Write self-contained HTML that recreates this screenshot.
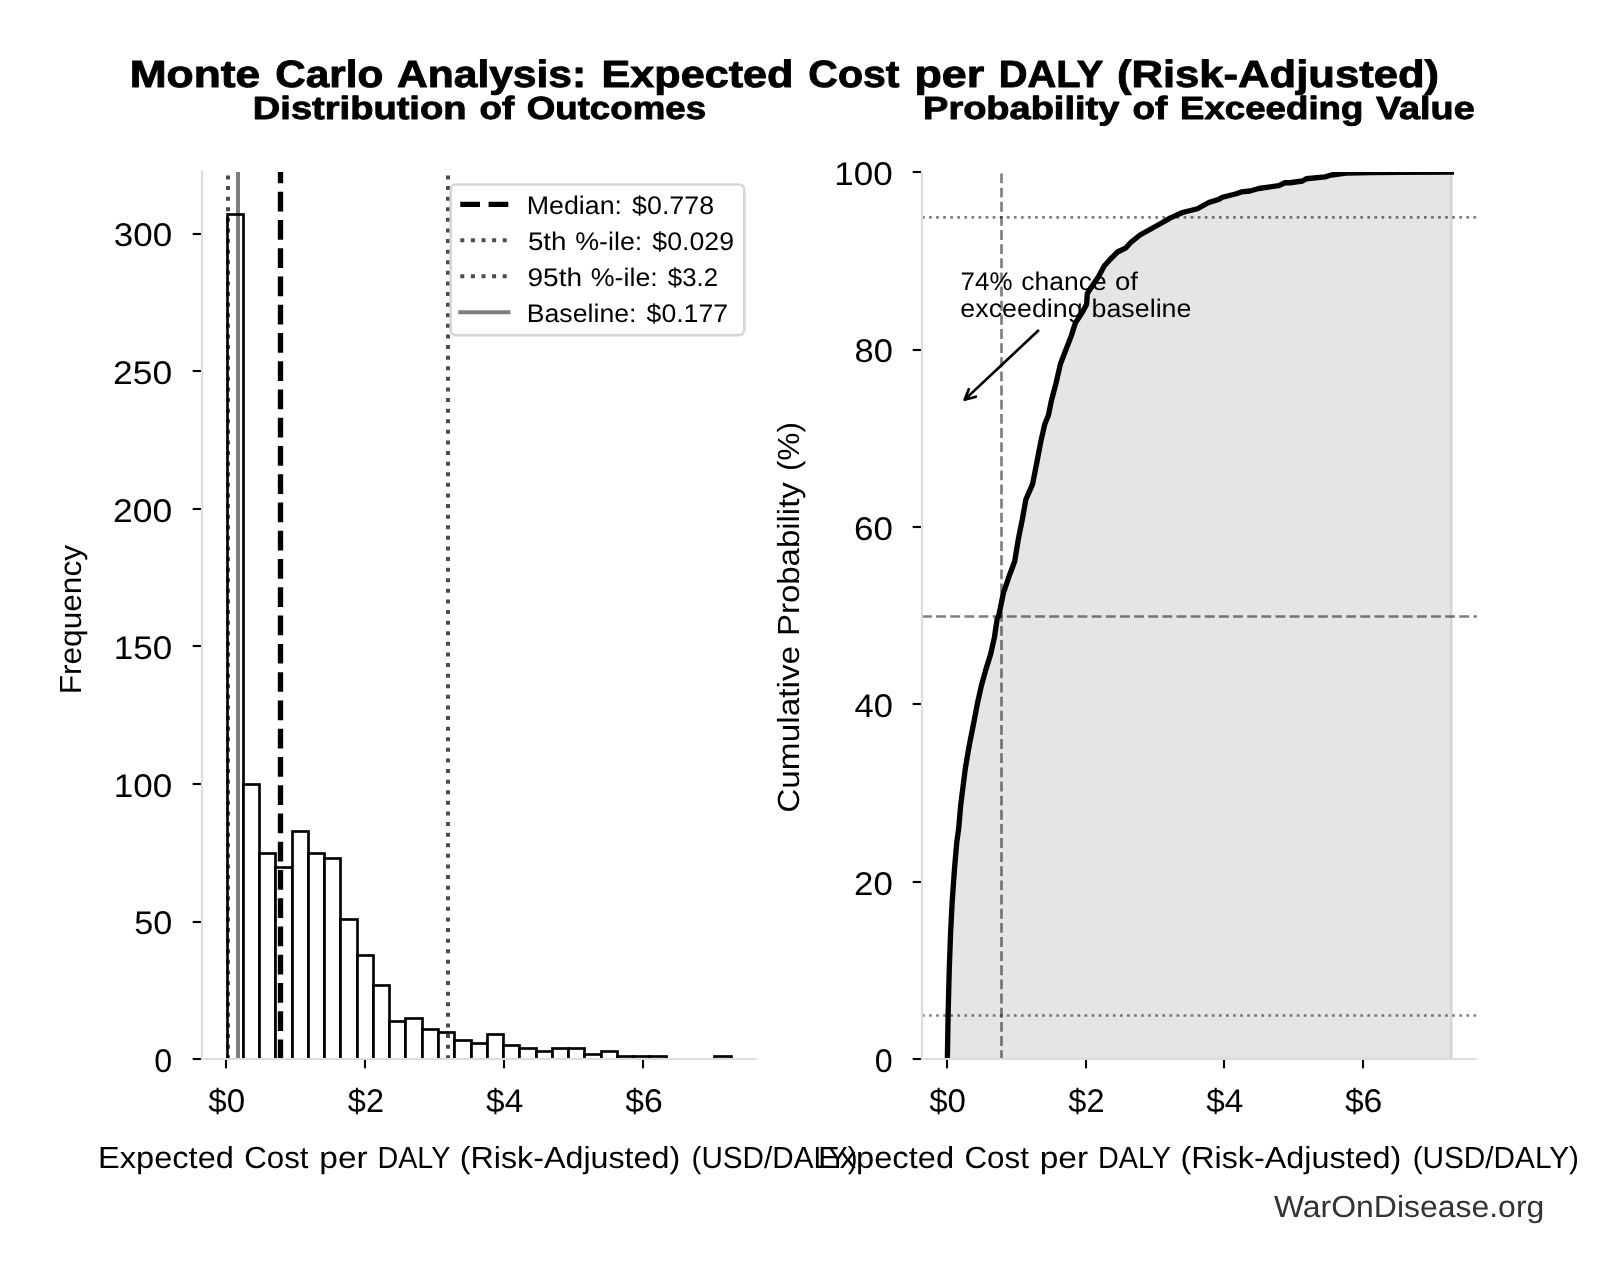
<!DOCTYPE html>
<html lang="en"><head><meta charset="utf-8"><title>Monte Carlo Analysis: Expected Cost per DALY (Risk-Adjusted)</title>
<style>html,body{margin:0;padding:0;background:#fff;}body{width:1601px;height:1280px;overflow:hidden;}svg{display:block;}text{font-family:"Liberation Sans",sans-serif;white-space:pre;}</style></head><body>
<svg width="1601" height="1280" viewBox="0 0 1601 1280">
<rect x="0" y="0" width="1601" height="1280" fill="#fff"/>
<defs>
<clipPath id="cl"><rect x="202.0" y="172.0" width="555.0" height="887.0"/></clipPath>
<clipPath id="cr"><rect x="922.0" y="172.0" width="555.0" height="887.0"/></clipPath>
</defs>
<g id="left-axes">
<g clip-path="url(#cl)">
<g fill="#fff" stroke="#000" stroke-width="2.667" stroke-linejoin="miter">
<rect x="227.50" y="214.50" width="16.00" height="845.00"/>
<rect x="243.50" y="784.50" width="16.00" height="275.00"/>
<rect x="259.50" y="853.50" width="16.00" height="206.00"/>
<rect x="275.50" y="867.50" width="17.00" height="192.00"/>
<rect x="292.50" y="831.50" width="16.00" height="228.00"/>
<rect x="308.50" y="853.50" width="16.00" height="206.00"/>
<rect x="324.50" y="858.50" width="16.00" height="201.00"/>
<rect x="340.50" y="919.50" width="17.00" height="140.00"/>
<rect x="357.50" y="955.50" width="16.00" height="104.00"/>
<rect x="373.50" y="985.50" width="16.00" height="74.00"/>
<rect x="389.50" y="1021.50" width="16.00" height="38.00"/>
<rect x="405.50" y="1018.50" width="17.00" height="41.00"/>
<rect x="422.50" y="1029.50" width="16.00" height="30.00"/>
<rect x="438.50" y="1032.50" width="16.00" height="27.00"/>
<rect x="454.50" y="1040.50" width="17.00" height="19.00"/>
<rect x="471.50" y="1043.50" width="16.00" height="16.00"/>
<rect x="487.50" y="1034.50" width="16.00" height="25.00"/>
<rect x="503.50" y="1045.50" width="16.00" height="14.00"/>
<rect x="519.50" y="1048.50" width="17.00" height="11.00"/>
<rect x="536.50" y="1051.50" width="16.00" height="8.00"/>
<rect x="552.50" y="1048.50" width="16.00" height="11.00"/>
<rect x="568.50" y="1048.50" width="16.00" height="11.00"/>
<rect x="584.50" y="1054.50" width="17.00" height="5.00"/>
<rect x="601.50" y="1051.50" width="16.00" height="8.00"/>
<rect x="617.50" y="1056.50" width="16.00" height="3.00"/>
<rect x="633.50" y="1056.50" width="16.00" height="3.00"/>
<rect x="649.50" y="1056.50" width="17.00" height="3.00"/>
<rect x="666.50" y="1059.50" width="16.00" height="0.00"/>
<rect x="682.50" y="1059.50" width="16.00" height="0.00"/>
<rect x="698.50" y="1059.50" width="16.00" height="0.00"/>
<rect x="714.50" y="1056.50" width="17.00" height="3.00"/>
</g>
<line x1="280.50" y1="1059.25" x2="280.50" y2="172.1" stroke="#000" stroke-width="5.33" stroke-dasharray="19.73 8.53"/>
<line x1="228.00" y1="1059.25" x2="228.00" y2="172.1" stroke="#000" stroke-opacity="0.7" stroke-width="4.00" stroke-dasharray="4.00 6.60"/>
<line x1="448.00" y1="1059.25" x2="448.00" y2="172.1" stroke="#000" stroke-opacity="0.7" stroke-width="4.00" stroke-dasharray="4.00 6.60"/>
<line x1="238.00" y1="1059.25" x2="238.00" y2="172.1" stroke="#000" stroke-opacity="0.5" stroke-width="4.00"/>
</g>
<g stroke="#000" stroke-width="2.13">
<line x1="202.0" y1="1059.00" x2="192.67" y2="1059.00"/>
<line x1="202.0" y1="922.00" x2="192.67" y2="922.00"/>
<line x1="202.0" y1="784.00" x2="192.67" y2="784.00"/>
<line x1="202.0" y1="646.00" x2="192.67" y2="646.00"/>
<line x1="202.0" y1="509.00" x2="192.67" y2="509.00"/>
<line x1="202.0" y1="371.00" x2="192.67" y2="371.00"/>
<line x1="202.0" y1="234.00" x2="192.67" y2="234.00"/>
<line x1="226.00" y1="1059.0" x2="226.00" y2="1068.33"/>
<line x1="365.00" y1="1059.0" x2="365.00" y2="1068.33"/>
<line x1="504.00" y1="1059.0" x2="504.00" y2="1068.33"/>
<line x1="643.00" y1="1059.0" x2="643.00" y2="1068.33"/>
</g>
<g stroke="#dddddd" stroke-width="2.13" stroke-linecap="square" fill="none">
<line x1="202.0" y1="172.0" x2="202.0" y2="1059.0"/>
<line x1="202.0" y1="1059.0" x2="755.93" y2="1059.0"/>
</g>
<g id="legend">
<rect x="450.6" y="184.5" width="293.7" height="150.6" rx="5.3" ry="5.3" fill="#fff" fill-opacity="0.8" stroke="#cccccc" stroke-opacity="0.8" stroke-width="2.67"/>
<line x1="460.3" y1="204.4" x2="508.5" y2="204.4" stroke="#000" stroke-width="5.33" stroke-dasharray="19.73 8.53"/>
<line x1="460.3" y1="240.2" x2="508.5" y2="240.2" stroke="#000" stroke-opacity="0.7" stroke-width="4.00" stroke-dasharray="4.00 6.60"/>
<line x1="460.3" y1="276.2" x2="508.5" y2="276.2" stroke="#000" stroke-opacity="0.7" stroke-width="4.00" stroke-dasharray="4.00 6.60"/>
<line x1="460.3" y1="312.2" x2="508.5" y2="312.2" stroke="#000" stroke-opacity="0.5" stroke-width="4" stroke-linecap="square"/>
</g>
</g>
<g id="right-axes">
<g clip-path="url(#cr)">
<polygon points="947.40,1062.00 947.40,1057.20 948.10,1015.00 949.25,970.00 950.60,932.50 952.25,900.60 954.50,868.75 956.75,842.50 958.70,828.40 960.60,806.25 962.90,787.50 965.30,768.75 968.10,751.90 970.90,736.90 974.30,720.00 977.50,703.10 981.25,686.25 985.90,669.40 990.60,654.40 994.40,637.50 997.20,618.75 998.75,615.60 1003.40,593.10 1009.10,576.25 1014.70,561.25 1018.40,538.75 1022.20,520.00 1025.90,499.40 1032.50,484.40 1036.25,465.60 1040.90,441.25 1044.70,424.40 1048.50,415.00 1051.30,401.00 1055.80,384.10 1060.50,363.75 1065.90,349.70 1071.40,335.60 1075.30,323.10 1082.30,312.20 1086.60,304.40 1087.30,293.40 1092.50,285.60 1098.75,276.25 1104.20,266.10 1110.50,259.00 1117.50,252.00 1126.00,247.80 1131.00,242.30 1140.00,235.00 1151.25,228.75 1162.50,222.50 1170.00,218.10 1182.50,212.50 1197.50,208.75 1208.75,202.50 1218.75,199.40 1222.50,197.25 1236.25,193.75 1241.25,191.90 1250.00,191.00 1258.75,188.50 1278.75,185.60 1285.00,182.75 1290.00,182.75 1302.50,181.00 1306.25,178.75 1325.00,176.90 1331.25,175.00 1346.00,173.20 1371.00,172.60 1400.00,172.30 1454.00,172.10 1451.6,172.1 1451.6,1059 947.4,1059" fill="#000" fill-opacity="0.1" stroke="#000" stroke-opacity="0.1" stroke-width="2.67" stroke-linejoin="miter"/>
<polyline points="947.40,1062.00 947.40,1057.20 948.10,1015.00 949.25,970.00 950.60,932.50 952.25,900.60 954.50,868.75 956.75,842.50 958.70,828.40 960.60,806.25 962.90,787.50 965.30,768.75 968.10,751.90 970.90,736.90 974.30,720.00 977.50,703.10 981.25,686.25 985.90,669.40 990.60,654.40 994.40,637.50 997.20,618.75 998.75,615.60 1003.40,593.10 1009.10,576.25 1014.70,561.25 1018.40,538.75 1022.20,520.00 1025.90,499.40 1032.50,484.40 1036.25,465.60 1040.90,441.25 1044.70,424.40 1048.50,415.00 1051.30,401.00 1055.80,384.10 1060.50,363.75 1065.90,349.70 1071.40,335.60 1075.30,323.10 1082.30,312.20 1086.60,304.40 1087.30,293.40 1092.50,285.60 1098.75,276.25 1104.20,266.10 1110.50,259.00 1117.50,252.00 1126.00,247.80 1131.00,242.30 1140.00,235.00 1151.25,228.75 1162.50,222.50 1170.00,218.10 1182.50,212.50 1197.50,208.75 1208.75,202.50 1218.75,199.40 1222.50,197.25 1236.25,193.75 1241.25,191.90 1250.00,191.00 1258.75,188.50 1278.75,185.60 1285.00,182.75 1290.00,182.75 1302.50,181.00 1306.25,178.75 1325.00,176.90 1331.25,175.00 1346.00,173.20 1371.00,172.60 1400.00,172.30 1454.00,172.10" fill="none" stroke="#000" stroke-width="5.33" stroke-linejoin="round" stroke-linecap="butt"/>
<line x1="922.0" y1="616.5" x2="1477.0" y2="616.5" stroke="#000" stroke-opacity="0.5" stroke-width="2.67" stroke-dasharray="9.87 4.27"/>
<line x1="1001.5" y1="1060.05" x2="1001.5" y2="172.0" stroke="#000" stroke-opacity="0.5" stroke-width="2.67" stroke-dasharray="9.87 4.27"/>
<line x1="922.0" y1="1015.5" x2="1477.0" y2="1015.5" stroke="#000" stroke-opacity="0.5" stroke-width="2.67" stroke-dasharray="2.67 4.40"/>
<line x1="922.0" y1="217.4" x2="1477.0" y2="217.4" stroke="#000" stroke-opacity="0.5" stroke-width="2.67" stroke-dasharray="2.67 4.40"/>
</g>
<g stroke="#000" stroke-width="2.13">
<line x1="922.0" y1="1059.00" x2="912.67" y2="1059.00"/>
<line x1="922.0" y1="882.00" x2="912.67" y2="882.00"/>
<line x1="922.0" y1="704.00" x2="912.67" y2="704.00"/>
<line x1="922.0" y1="527.00" x2="912.67" y2="527.00"/>
<line x1="922.0" y1="350.00" x2="912.67" y2="350.00"/>
<line x1="922.0" y1="172.00" x2="912.67" y2="172.00"/>
<line x1="947.00" y1="1059.0" x2="947.00" y2="1068.33"/>
<line x1="1086.00" y1="1059.0" x2="1086.00" y2="1068.33"/>
<line x1="1224.00" y1="1059.0" x2="1224.00" y2="1068.33"/>
<line x1="1363.00" y1="1059.0" x2="1363.00" y2="1068.33"/>
</g>
<g stroke="#dddddd" stroke-width="2.13" stroke-linecap="square" fill="none">
<line x1="922.0" y1="172.0" x2="922.0" y2="1059.0"/>
<line x1="922.0" y1="1059.0" x2="1475.93" y2="1059.0"/>
</g>
<g stroke="#000" stroke-width="2.67" fill="none" stroke-linecap="round" stroke-linejoin="round">
<line x1="1038.9" y1="330.0" x2="965.0" y2="399.4" stroke-linecap="butt"/>
<polyline points="968.8,389.2 964.6,399.8 975.9,396.7"/>
</g>
</g>
<g id="labels" style="will-change:transform;text-rendering:geometricPrecision">
<text y="86.55" font-size="37.94" font-weight="bold" stroke="#000" stroke-width="0.9" stroke-linejoin="round" fill="#000"><tspan x="129.68" textLength="130.51" lengthAdjust="spacingAndGlyphs">Monte</tspan> <tspan x="275.35" textLength="107.97" lengthAdjust="spacingAndGlyphs">Carlo</tspan> <tspan x="396.99" textLength="189.23" lengthAdjust="spacingAndGlyphs">Analysis:</tspan> <tspan x="601.52" textLength="191.97" lengthAdjust="spacingAndGlyphs">Expected</tspan> <tspan x="808.37" textLength="91.14" lengthAdjust="spacingAndGlyphs">Cost</tspan> <tspan x="914.42" textLength="69.87" lengthAdjust="spacingAndGlyphs">per</tspan> <tspan x="998.65" textLength="104.00" lengthAdjust="spacingAndGlyphs">DALY</tspan> <tspan x="1116.95" textLength="322.18" lengthAdjust="spacingAndGlyphs">(Risk-Adjusted)</tspan></text>
<text y="118.55" font-size="32.12" font-weight="bold" stroke="#000" stroke-width="0.9" stroke-linejoin="round" fill="#000"><tspan x="252.87" textLength="213.60" lengthAdjust="spacingAndGlyphs">Distribution</tspan> <tspan x="479.42" textLength="34.73" lengthAdjust="spacingAndGlyphs">of</tspan> <tspan x="526.77" textLength="179.26" lengthAdjust="spacingAndGlyphs">Outcomes</tspan></text>
<text y="118.55" font-size="32.12" font-weight="bold" stroke="#000" stroke-width="0.9" stroke-linejoin="round" fill="#000"><tspan x="923.08" textLength="196.19" lengthAdjust="spacingAndGlyphs">Probability</tspan> <tspan x="1132.40" textLength="34.81" lengthAdjust="spacingAndGlyphs">of</tspan> <tspan x="1180.07" textLength="183.27" lengthAdjust="spacingAndGlyphs">Exceeding</tspan> <tspan x="1375.94" textLength="98.80" lengthAdjust="spacingAndGlyphs">Value</tspan></text>
<text y="1168.00" font-size="30.52" fill="#000"><tspan x="98.05" textLength="135.85" lengthAdjust="spacingAndGlyphs">Expected</tspan> <tspan x="244.26" textLength="64.30" lengthAdjust="spacingAndGlyphs">Cost</tspan> <tspan x="319.28" textLength="48.38" lengthAdjust="spacingAndGlyphs">per</tspan> <tspan x="377.49" textLength="72.30" lengthAdjust="spacingAndGlyphs">DALY</tspan> <tspan x="459.77" textLength="220.40" lengthAdjust="spacingAndGlyphs">(Risk-Adjusted)</tspan> <tspan x="691.50" textLength="166.04" lengthAdjust="spacingAndGlyphs">(USD/DALY)</tspan></text>
<text y="1168.00" font-size="30.52" fill="#000"><tspan x="817.95" textLength="136.14" lengthAdjust="spacingAndGlyphs">Expected</tspan> <tspan x="964.47" textLength="64.44" lengthAdjust="spacingAndGlyphs">Cost</tspan> <tspan x="1039.65" textLength="48.48" lengthAdjust="spacingAndGlyphs">per</tspan> <tspan x="1097.98" textLength="72.45" lengthAdjust="spacingAndGlyphs">DALY</tspan> <tspan x="1180.43" textLength="220.87" lengthAdjust="spacingAndGlyphs">(Risk-Adjusted)</tspan> <tspan x="1412.65" textLength="166.39" lengthAdjust="spacingAndGlyphs">(USD/DALY)</tspan></text>
<text y="1217.00" font-size="30.52" fill="#333"><tspan x="1273.90" textLength="270.39" lengthAdjust="spacingAndGlyphs">WarOnDisease.org</tspan></text>
<text transform="translate(81.00,0) rotate(-90)" y="0" font-size="30.52" fill="#000"><tspan x="-694.37" textLength="149.37" lengthAdjust="spacingAndGlyphs">Frequency</tspan></text>
<text transform="translate(799.00,0) rotate(-90)" y="0" font-size="30.52" fill="#000"><tspan x="-812.87" textLength="167.04" lengthAdjust="spacingAndGlyphs">Cumulative</tspan> <tspan x="-636.00" textLength="153.79" lengthAdjust="spacingAndGlyphs">Probability</tspan> <tspan x="-470.96" textLength="48.79" lengthAdjust="spacingAndGlyphs">(%)</tspan></text>
<text y="214.00" font-size="25.43" fill="#000"><tspan x="526.71" textLength="95.33" lengthAdjust="spacingAndGlyphs">Median:</tspan> <tspan x="632.12" textLength="81.96" lengthAdjust="spacingAndGlyphs">$0.778</tspan></text>
<text y="250.00" font-size="25.43" fill="#000"><tspan x="527.93" textLength="38.60" lengthAdjust="spacingAndGlyphs">5th</tspan> <tspan x="575.18" textLength="67.09" lengthAdjust="spacingAndGlyphs">%-ile:</tspan> <tspan x="652.32" textLength="81.76" lengthAdjust="spacingAndGlyphs">$0.029</tspan></text>
<text y="286.00" font-size="25.43" fill="#000"><tspan x="527.48" textLength="54.67" lengthAdjust="spacingAndGlyphs">95th</tspan> <tspan x="590.77" textLength="66.99" lengthAdjust="spacingAndGlyphs">%-ile:</tspan> <tspan x="667.80" textLength="50.25" lengthAdjust="spacingAndGlyphs">$3.2</tspan></text>
<text y="322.00" font-size="25.43" fill="#000"><tspan x="526.71" textLength="109.80" lengthAdjust="spacingAndGlyphs">Baseline:</tspan> <tspan x="646.60" textLength="81.48" lengthAdjust="spacingAndGlyphs">$0.177</tspan></text>
<text y="290.00" font-size="25.43" fill="#000"><tspan x="960.58" textLength="51.95" lengthAdjust="spacingAndGlyphs">74%</tspan> <tspan x="1021.19" textLength="85.44" lengthAdjust="spacingAndGlyphs">chance</tspan> <tspan x="1114.91" textLength="22.99" lengthAdjust="spacingAndGlyphs">of</tspan></text>
<text y="316.60" font-size="25.43" fill="#000"><tspan x="960.36" textLength="122.27" lengthAdjust="spacingAndGlyphs">exceeding</tspan> <tspan x="1091.46" textLength="100.02" lengthAdjust="spacingAndGlyphs">baseline</tspan></text>
<text y="1072.00" font-size="32.80" fill="#000"><tspan x="154.27" textLength="17.94" lengthAdjust="spacingAndGlyphs">0</tspan></text>
<text y="934.00" font-size="32.80" fill="#000"><tspan x="134.21" textLength="38.05" lengthAdjust="spacingAndGlyphs">50</tspan></text>
<text y="797.00" font-size="32.80" fill="#000"><tspan x="113.77" textLength="58.50" lengthAdjust="spacingAndGlyphs">100</tspan></text>
<text y="659.00" font-size="32.80" fill="#000"><tspan x="113.77" textLength="58.50" lengthAdjust="spacingAndGlyphs">150</tspan></text>
<text y="522.00" font-size="32.80" fill="#000"><tspan x="113.13" textLength="59.15" lengthAdjust="spacingAndGlyphs">200</tspan></text>
<text y="384.00" font-size="32.80" fill="#000"><tspan x="113.13" textLength="59.15" lengthAdjust="spacingAndGlyphs">250</tspan></text>
<text y="246.00" font-size="32.80" fill="#000"><tspan x="113.79" textLength="58.48" lengthAdjust="spacingAndGlyphs">300</tspan></text>
<text y="1072.00" font-size="32.80" fill="#000"><tspan x="874.87" textLength="17.94" lengthAdjust="spacingAndGlyphs">0</tspan></text>
<text y="895.00" font-size="32.80" fill="#000"><tspan x="854.12" textLength="38.75" lengthAdjust="spacingAndGlyphs">20</tspan></text>
<text y="717.00" font-size="32.80" fill="#000"><tspan x="854.43" textLength="38.43" lengthAdjust="spacingAndGlyphs">40</tspan></text>
<text y="540.00" font-size="32.80" fill="#000"><tspan x="854.00" textLength="38.87" lengthAdjust="spacingAndGlyphs">60</tspan></text>
<text y="362.00" font-size="32.80" fill="#000"><tspan x="854.50" textLength="38.36" lengthAdjust="spacingAndGlyphs">80</tspan></text>
<text y="185.00" font-size="32.80" fill="#000"><tspan x="834.37" textLength="58.50" lengthAdjust="spacingAndGlyphs">100</tspan></text>
<text y="1112.00" font-size="32.80" fill="#000"><tspan x="208.28" textLength="36.76" lengthAdjust="spacingAndGlyphs">$0</tspan></text>
<text y="1112.00" font-size="32.80" fill="#000"><tspan x="929.18" textLength="36.76" lengthAdjust="spacingAndGlyphs">$0</tspan></text>
<text y="1112.00" font-size="32.80" fill="#000"><tspan x="347.82" textLength="36.18" lengthAdjust="spacingAndGlyphs">$2</tspan></text>
<text y="1112.00" font-size="32.80" fill="#000"><tspan x="1068.32" textLength="36.18" lengthAdjust="spacingAndGlyphs">$2</tspan></text>
<text y="1112.00" font-size="32.80" fill="#000"><tspan x="486.12" textLength="37.10" lengthAdjust="spacingAndGlyphs">$4</tspan></text>
<text y="1112.00" font-size="32.80" fill="#000"><tspan x="1206.22" textLength="37.10" lengthAdjust="spacingAndGlyphs">$4</tspan></text>
<text y="1112.00" font-size="32.80" fill="#000"><tspan x="625.23" textLength="37.41" lengthAdjust="spacingAndGlyphs">$6</tspan></text>
<text y="1112.00" font-size="32.80" fill="#000"><tspan x="1344.93" textLength="37.41" lengthAdjust="spacingAndGlyphs">$6</tspan></text>
</g>
</svg></body></html>
